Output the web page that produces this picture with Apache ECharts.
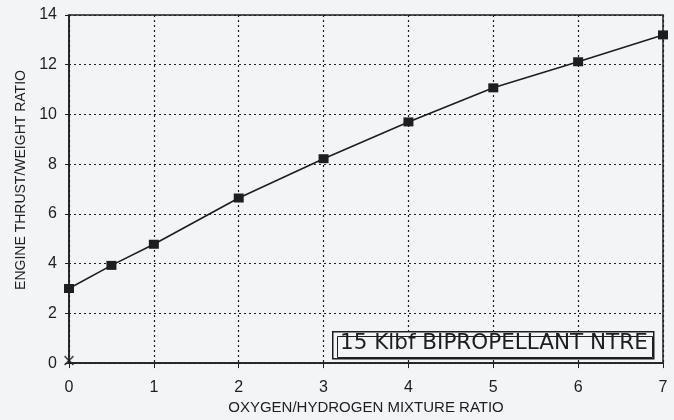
<!DOCTYPE html>
<html>
<head>
<meta charset="utf-8">
<script src="https://cdn.jsdelivr.net/npm/echarts@6/dist/echarts.min.js"></script>
<style>
html,body{margin:0;padding:0;background:#f3f4f6;}
#c{width:674px;height:420px;}
</style>
</head>
<body>
<div id="c"></div>
<script>
const mixtureRatio = [0, 0.5, 1, 2, 3, 4, 5, 6, 7];
const thrustWeight = [3.0, 3.93, 4.78, 6.64, 8.22, 9.7, 11.07, 12.12, 13.2];
const originMark = [[0, 0.1]];
const xTicks = [0, 1, 2, 3, 4, 5, 6, 7];
const yTicks = [0, 2, 4, 6, 8, 10, 12, 14];
const legendText = '15 Klbf BIPROPELLANT NTRE';
const xTitle = 'OXYGEN/HYDROGEN MIXTURE RATIO';
const yTitle = 'ENGINE THRUST/WEIGHT RATIO';

const ink = '#1e1e1e';
const font = '"Liberation Sans", Arial, sans-serif';
const chart = echarts.init(document.getElementById('c'));
chart.setOption({
  backgroundColor: '#f3f4f6',
  animation: false,
  grid: {left: 69, right: 11, top: 15, bottom: 49, show: true, borderColor: ink, borderWidth: 1.5, backgroundColor: 'transparent'},
  xAxis: {
    type: 'value', min: xTicks[0], max: xTicks[xTicks.length - 1], interval: 1,
    name: xTitle, nameLocation: 'middle', nameGap: 32,
    nameTextStyle: {fontFamily: font, fontSize: 15, color: ink},
    axisLine: {show: true, onZero: false, lineStyle: {color: ink, width: 1.5}},
    axisTick: {show: true, length: 5, lineStyle: {color: ink}},
    axisLabel: {fontFamily: font, fontSize: 16, color: ink, margin: 16},
    splitLine: {show: true, lineStyle: {color: ink, type: [2, 3], width: 1.2}}
  },
  yAxis: {
    type: 'value', min: yTicks[0], max: yTicks[yTicks.length - 1], interval: 2,
    axisLine: {show: true, onZero: false, lineStyle: {color: ink, width: 1.5}},
    axisTick: {show: true, length: 4, lineStyle: {color: ink}},
    axisLabel: {fontFamily: font, fontSize: 16, color: ink, margin: 12},
    splitLine: {show: true, lineStyle: {color: ink, type: [2, 3], width: 1.2}}
  },
  series: [
    {
      type: 'line',
      data: mixtureRatio.map((x, i) => [x, thrustWeight[i]]),
      symbol: 'rect', symbolSize: [10, 9],
      itemStyle: {color: ink},
      lineStyle: {color: ink, width: 1.6},
      z: 5
    },
    {
      type: 'scatter',
      data: originMark,
      symbol: 'path://M0,1.2 L1.2,0 L5,3.8 L8.8,0 L10,1.2 L6.2,5 L10,8.8 L8.8,10 L5,6.2 L1.2,10 L0,8.8 L3.8,5 Z',
      symbolSize: 10,
      itemStyle: {color: ink},
      z: 6
    }
  ],
  graphic: [
    {type: 'text', x: 21, y: 180, rotation: Math.PI / 2, style: {text: yTitle, font: '14px "Liberation Sans", Arial, sans-serif', fill: ink, textAlign: 'center', textVerticalAlign: 'middle'}, z: 10},
    {type: 'rect', left: 332, top: 331, shape: {width: 321, height: 27}, style: {fill: '#f3f4f6', stroke: ink, lineWidth: 1.5}, z: 10},
    {type: 'rect', left: 335, top: 334, shape: {width: 315, height: 21}, style: {fill: 'none', stroke: ink, lineWidth: 1}, z: 11},
    {type: 'text', left: 340, top: 332, style: {text: legendText, font: '21.5px "DejaVu Sans", sans-serif', fill: ink}, z: 12}
  ]
});
</script>
</body>
</html>
